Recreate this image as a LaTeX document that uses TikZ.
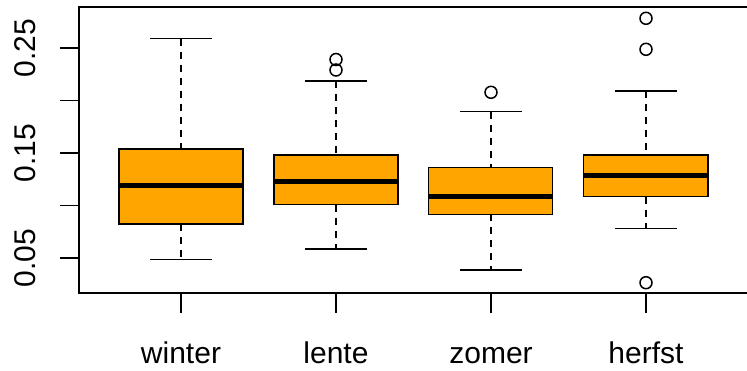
\documentclass[tikz,border=0pt]{standalone}
\usepackage{fontspec}
\setmainfont{Liberation Sans}
\definecolor{rorange}{HTML}{FFA500}
\begin{document}
\begin{tikzpicture}[x=1pt,y=-1pt,
  frame/.style={line width=1.5pt},
  boxfill/.style={fill=rorange,draw=black,line width=1.5pt},
  median/.style={line width=5pt},
  whisk/.style={line width=1.5pt,dash pattern=on 7pt off 6pt},
  capline/.style={line width=1.5pt},
  outl/.style={line width=1.5pt},
  lab/.style={font=\fontsize{30}{36}\selectfont,inner sep=0pt}]
\useasboundingbox (0,0) rectangle (747,370);
% axes frame
\draw[frame] (749,7) -- (79,7) -- (79,293) -- (749,293);
% y ticks
\foreach \v/\y in {0.25/48,0.20/100.5,0.15/153,0.10/205.5,0.05/258}{
  \draw[frame] (60,\y) -- (79,\y);
}
\foreach \t/\y in {0.25/48,0.15/153,0.05/258}{
  \node[lab,rotate=90,anchor=base] at (35,\y) {\t};
}
% x ticks and labels
\foreach \x/\t in {181/winter,336/lente,491/zomer,646/herfst}{
  \draw[frame] (\x,293) -- (\x,313);
  \node[lab,anchor=base] at (\x,363) {\t};
}
% boxplot macro-like drawing
% winter
\draw[whisk] (181,38.5) -- (181,149);
\draw[whisk] (181,224) -- (181,259.5);
\draw[capline] (150,38.5) -- (212,38.5);
\draw[capline] (150,259.5) -- (212,259.5);
\draw[boxfill] (119,149) rectangle (243,224);
\draw[median] (119,185.5) -- (243,185.5);
% lente
\draw[whisk] (336,81) -- (336,155);
\draw[whisk] (336,204.5) -- (336,249);
\draw[capline] (305,81) -- (367,81);
\draw[capline] (305,249) -- (367,249);
\draw[boxfill] (274,155) rectangle (398,204.5);
\draw[median] (274,181.3) -- (398,181.3);
\draw[outl] (336,59.5) circle (6);
\draw[outl] (336,70) circle (6);
% zomer
\draw[whisk] (491,111.7) -- (491,167.3);
\draw[whisk] (491,214.3) -- (491,270);
\draw[capline] (460,111.7) -- (522,111.7);
\draw[capline] (460,270) -- (522,270);
\draw[boxfill] (428.5,167.3) rectangle (552.5,214.3);
\draw[median] (428.5,196.5) -- (552.5,196.5);
\draw[outl] (491,92.3) circle (6);
% herfst
\draw[whisk] (646,91) -- (646,155);
\draw[whisk] (646,196.7) -- (646,228.7);
\draw[capline] (615,91) -- (677,91);
\draw[capline] (615,228.7) -- (677,228.7);
\draw[boxfill] (583.5,155) rectangle (708,196.7);
\draw[median] (583.5,175) -- (708,175);
\draw[outl] (646,18.3) circle (6);
\draw[outl] (646,49.3) circle (6);
\draw[outl] (646,282.7) circle (6);
\end{tikzpicture}
\end{document}
